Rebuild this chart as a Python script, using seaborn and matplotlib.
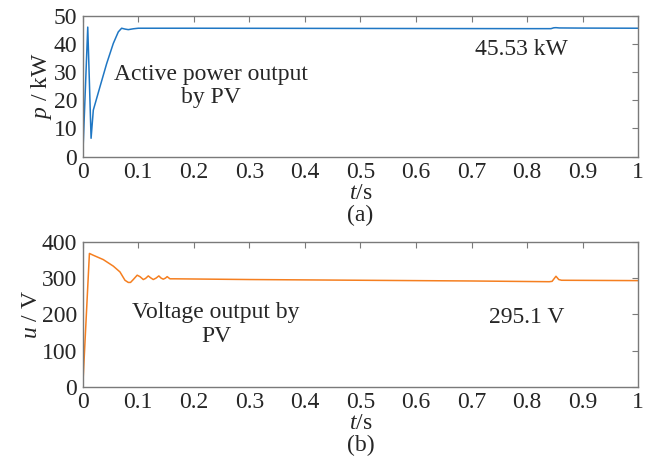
import pandas as pd
import matplotlib.pyplot as plt
import seaborn as sns

# top panel: active power of PV (kW)
t_power = [0, 0.009, 0.015, 0.019, 0.031, 0.043, 0.055, 0.064, 0.070, 0.076,
           0.082, 0.091, 0.100, 0.2, 0.4, 0.6, 0.8, 0.843, 0.848, 0.852, 0.858, 0.9, 1.0]
p_power = [0, 46.0, 6.5, 16.5, 24.8, 33.0, 40.2, 44.3, 45.6, 45.3,
           45.1, 45.4, 45.6, 45.6, 45.55, 45.5, 45.45, 45.45, 45.75, 45.8, 45.7, 45.65, 45.6]

# bottom panel: PV voltage (V)
t_volt = [0, 0.012, 0.019, 0.037, 0.055, 0.067, 0.076, 0.082, 0.086, 0.091,
          0.098, 0.103, 0.109, 0.113, 0.118, 0.122, 0.127, 0.132, 0.137, 0.141,
          0.145, 0.149, 0.152, 0.157, 0.165, 0.3, 0.5, 0.7, 0.84, 0.845,
          0.852, 0.857, 0.862, 1.0]
u_volt = [0, 368, 363, 351, 333, 317, 294, 288, 288, 296,
          308, 304, 296, 299, 306, 301, 296, 300, 306, 300,
          297, 300, 304, 298, 298, 296, 294, 292, 290, 291,
          305, 296, 294, 293]

df_p = pd.DataFrame({"t": t_power, "p": p_power})
df_u = pd.DataFrame({"t": t_volt, "u": u_volt})

sns.set_style("white")
plt.rcParams["font.family"] = ["Liberation Serif", "DejaVu Serif"]
plt.rcParams["mathtext.fontset"] = "custom"
plt.rcParams["mathtext.rm"] = "Liberation Serif"
plt.rcParams["mathtext.it"] = "Liberation Serif:italic"

fs = 17
txt = "#262626"

fig = plt.figure(figsize=(6.62, 4.66), dpi=100)
ax1 = fig.add_axes([0.125, 0.664, 0.839, 0.302])
ax2 = fig.add_axes([0.125, 0.170, 0.839, 0.311])

sns.lineplot(data=df_p, x="t", y="p", ax=ax1, color="#1f77c4", linewidth=1.1)
sns.lineplot(data=df_u, x="t", y="u", ax=ax2, color="#f57f20", linewidth=1.1)

for ax in (ax1, ax2):
    ax.set_xlim(0, 1)
    ax.set_xticks([i / 10 for i in range(11)])
    ax.set_xticklabels(["0", "0.1", "0.2", "0.3", "0.4", "0.5", "0.6", "0.7", "0.8", "0.9", "1"])
    ax.tick_params(direction="in", top=True, right=True, length=4, width=0.8,
                   labelsize=fs, colors="#7a7a7a", labelcolor=txt, pad=4)
    for s in ax.spines.values():
        s.set_color("#7a7a7a")
        s.set_linewidth(1.0)
    ax.set_xlabel(r"$\it{t}$/s", fontsize=fs, color=txt, labelpad=0)

ax1.set_ylim(0, 50)
ax1.set_yticks([0, 10, 20, 30, 40, 50])
ax1.set_ylabel(r"$\it{p}$ / kW", fontsize=fs, color=txt, labelpad=0)
ax1.text(0.23, 25, "Active power output\nby PV", fontsize=fs, ha="center", va="center",
         color=txt, linespacing=1.15)
ax1.text(0.79, 38, "45.53 kW", fontsize=fs, ha="center", va="center", color=txt)
ax1.text(0.5, -0.415, "(a)", transform=ax1.transAxes, fontsize=fs, ha="center",
         va="center", color=txt)

ax2.set_ylim(0, 400)
ax2.set_yticks([0, 100, 200, 300, 400])
ax2.set_ylabel(r"$\it{u}$ / V", fontsize=fs, color=txt, labelpad=0)
ax2.text(0.24, 172, "Voltage output by\nPV", fontsize=fs, ha="center", va="center",
         color=txt, linespacing=1.15)
ax2.text(0.80, 190, "295.1 V", fontsize=fs, ha="center", va="center", color=txt)
ax2.text(0.5, -0.405, "(b)", transform=ax2.transAxes, fontsize=fs, ha="center",
         va="center", color=txt)

plt.savefig("out.png", dpi=100)
